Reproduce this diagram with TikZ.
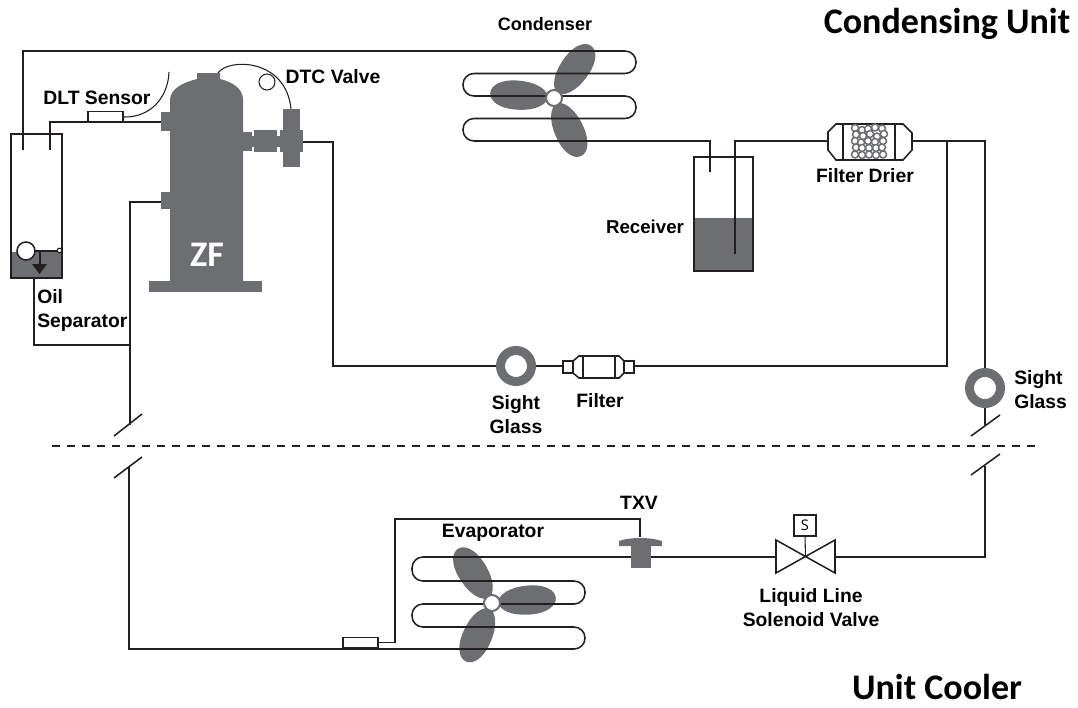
\documentclass[tikz,border=0pt]{standalone}
\usepackage{xcolor}
\usepackage{fontspec}
\setmainfont{Liberation Sans}
\newfontfamily\unitfont{Carlito}
\newfontfamily\valvefont{Open Sans}
\usepackage{tikz}
\usetikzlibrary{arrows.meta, calc}

\definecolor{compgray}{HTML}{6D6E71}
\definecolor{pipeblack}{HTML}{231F20}
\tikzset{
  pipe/.style={draw=pipeblack, line width=1.15pt},
  thinpipe/.style={draw=pipeblack, line width=0.8pt},
  comp/.style={fill=compgray},
  tank/.style={draw=pipeblack, line width=1.15pt, rectangle, inner sep=0pt, outer sep=0pt},
  sensorbox/.style={tank, fill=white, minimum width=26pt, minimum height=8pt},
  glass/.style={circle, draw=compgray, fill=white, line width=6.75pt, minimum size=23.25pt, inner sep=0pt, outer sep=3.375pt},
  label/.style={inner sep=0pt, text=black, font=\fontsize{14.5}{18}\selectfont\bfseries},
  unitlabel/.style={inner sep=0pt, text=black, font=\unitfont\fontsize{27}{30}\selectfont\bfseries},
}

\begin{document}
\begin{tikzpicture}[x=0.75pt,y=-0.75pt]
\useasboundingbox (0,0) rectangle (1078,707);

% Ports and corners
\coordinate (sepin) at (23,150);
\coordinate (sepout) at (50,150);
\coordinate (dltport) at (161,122);
\coordinate (suctport) at (161,202);
\coordinate (dtcport) at (303,142);
\coordinate (recin) at (710,172);
\coordinate (recdip) at (735,254);
\coordinate (tee) at (947,141);
\coordinate (hubcond) at (554,98);
\coordinate (hubevap) at (492,603);

% Oil separator
\fill[comp] (11,252) rectangle (62,278);
\node[tank, minimum width=38.25pt, minimum height=108pt] (oilsep) at (36.5,206) {};
\draw[thinpipe] (26,251) -- (59,251);
\draw[thinpipe] (40,251) -- (40,265);
\fill[pipeblack] (32,264) -- (47,264) -- (39.5,274) -- cycle;
\node[circle, draw=pipeblack, fill=white, line width=1.15pt, minimum size=13.5pt, inner sep=0pt] (sepfloat) at (26,251) {};
\node[circle, draw=pipeblack, fill=white, line width=0.8pt, minimum size=3.5pt, inner sep=0pt] (sepball) at (59.5,250.5) {};

% Compressor
\fill[comp] (170,281) -- (170,100) .. controls (170,88) and (185,82) .. (197,79) -- (197,73) -- (220,73) -- (220,79) .. controls (232,82) and (243,88) .. (243,100) -- (243,281) -- cycle;
\fill[comp] (149,281) rectangle (262,292);
\fill[comp] (161,112) rectangle (170,131);
\fill[comp] (161,192) rectangle (170,209);
\fill[comp] (243,132) rectangle (252,151);
\fill[comp] (252,136) rectangle (280,147);
\fill[comp] (254,130) rectangle (277,152);
\fill[comp] (280,130) rectangle (303,152);
\fill[comp] (283,109) rectangle (300,167);
\node[inner sep=0pt, text=white, font=\unitfont\fontsize{27}{30}\selectfont\bfseries] (zf) at (207,255) {ZF};

% DTC valve bulb and DLT sensor
\draw[thinpipe] (218,73) .. controls (228,58) and (286,58) .. (291,109);
\node[circle, draw=pipeblack, fill=white, line width=0.8pt, minimum size=12pt, inner sep=0pt] (dtcbulb) at (267,82) {};
\node[sensorbox] (dltsensor) at (105.5,117) {};
\draw[thinpipe] (dltsensor.east) .. controls (150,118) and (168,98) .. (169,72);

% Fan blades
\foreach \ang in {175.5,54.7,-65}
  \fill[comp, shift={(hubcond)}, rotate=\ang] (5,0) .. controls (10,-12) and (26,-15) .. (40,-14.5) .. controls (54,-14) and (64,-8) .. (64,0) .. controls (64,8) and (54,14) .. (40,14.5) .. controls (26,15) and (10,12) .. (5,0) -- cycle;
\foreach \ang in {4.6,122,246}
  \fill[comp, shift={(hubevap)}, rotate=\ang] (5,0) .. controls (10,-12) and (26,-15) .. (40,-14.5) .. controls (54,-14) and (64,-8) .. (64,0) .. controls (64,8) and (54,14) .. (40,14.5) .. controls (26,15) and (10,12) .. (5,0) -- cycle;

% Receiver
\fill[comp] (694,218) rectangle (753,271);
\node[tank, minimum width=44.25pt, minimum height=85.5pt] (receiver) at (723.5,214) {};

% Filter drier
\draw[pipe] (828,132) -- (836,124) -- (903,124) -- (912,133) -- (912,150) -- (903,160) -- (836,160) -- (828,150) -- cycle;
\coordinate (drierin) at (828,141);
\coordinate (drierout) at (912,141);
\draw[pipe] (843,124) -- (843,160);
\draw[pipe] (895,124) -- (895,160);
\foreach \col/\row in {855/128,862/130,868/129,875/127.5,882/128.5,
    856/134.5,863/136,870/134,877/136.5,884/134,
    855/141,861/142.5,868/141,875/142,883/141,
    856/147.5,862/148,869/148,876/148,882/147.5,
    855/154.5,862/155,869/154.5,876/155,883/154.5}
  \draw[draw=compgray, fill=white, line width=1.1pt] (\col,\row) circle (3.5);

% Discharge line and condenser coil
\draw[pipe] (sepin) -- (23,51) [rounded corners=8.2pt] -- (636,51) -- (636,73.5) -- (463,73.5) -- (463,96) -- (636,96) -- (636,118.5) -- (463,118.5) -- (463,141) [sharp corners] -- (710,141) -- (recin);
\draw[pipe] (sepout) |- (dltport);
\node[circle, draw=compgray, fill=white, line width=1.5pt, minimum size=12pt, inner sep=0pt] (hubc) at (hubcond) {};

% Liquid line
\node[glass] (sightright) at (985,388) {};
\draw[pipe] (recdip) -- (735,141) -- (drierin);
\draw[pipe] (drierout) -| (sightright.north);
\draw[pipe] (tee) -- (947,366) -- (634,366);
\draw[pipe] (sightright.south) -- (985,425);

% Hot gas line with sight glass and filter
\node[glass] (sightleft) at (516,366) {};
\draw[pipe] (dtcport) -- (333,142) |- (sightleft.west);
\draw[pipe] (sightleft.east) -- (563,366);
\draw[pipe] (563,361) rectangle (573,373);
\draw[pipe] (624,361) rectangle (634,373);
\draw[pipe] (573,361) -- (579,356) -- (619,356) -- (624,361) -- (624,373) -- (619,378) -- (579,378) -- (573,373) -- cycle;
\draw[pipe] (583,356) -- (583,378);
\draw[pipe] (615,356) -- (615,378);

% Oil return and suction line
\draw[pipe] (34,278) -- (34,345) -- (130,345);
\draw[pipe] (suctport) -| (130,425);

% Break between units
\draw[pipeblack, line width=1.1pt, dash pattern=on 6pt off 5.25pt] (52,446) -- (1039,446);
\draw[pipe] (114,436) -- (142,414);
\draw[pipe] (114,478) -- (142,457);
\draw[pipe] (971,436) -- (1000,415);
\draw[pipe] (971,475) -- (1000,454);

% Evaporator coil
\draw[pipe] (129,467) -- (129,649) [rounded corners=8.2pt] -- (585,649) -- (585,627) -- (412,627) -- (412,604) -- (585,604) -- (585,581) -- (412,581) -- (412,557) [sharp corners] -- (776,557);
\node[circle, draw=compgray, fill=white, line width=1.5pt, minimum size=12pt, inner sep=0pt] (hube) at (hubevap) {};
\node[sensorbox, minimum height=7.5pt] (evapsensor) at (360.5,642.5) {};

% TXV
\fill[comp] (619,546) -- (619,541) .. controls (630,537) and (650,537) .. (662,541) -- (662,546) -- cycle;
\fill[comp] (631,546) rectangle (651,568);
\coordinate (txvtop) at (640,537);
\draw[pipe] (evapsensor.east) -- (395,642.5) -- (395,519) -| (txvtop);

% Solenoid valve
\draw[pipe] (776,540) -- (776,573) -- (835,540) -- (835,573) -- cycle;
\node[tank, minimum width=16.5pt, minimum height=16pt, font=\valvefont\fontsize{11}{12}\selectfont] (sbox) at (805,525.5) {S};
\coordinate (solenoid) at (805.5,556.5);
\draw[thinpipe] (sbox.south) -- (solenoid);
\draw[pipe] (835,557) -| (985,466);

% Labels
\node[unitlabel] (condunit) at (947,24) {Condensing Unit};
\node[unitlabel] (coolunit) at (937,687) {Unit Cooler};
\node[label, font=\fontsize{13.5}{18}\selectfont\bfseries] (condlabel) at (545,24) {Condenser};
\node[label] (dtclabel) at (333,77) {DTC Valve};
\node[label] (dltlabel) at (97,98) {DLT Sensor};
\node[label, align=left, anchor=west] (seplabel) at (37,310) {Oil\\Separator};
\node[label, font=\fontsize{14}{18}\selectfont\bfseries] (reclabel) at (645,227) {Receiver};
\node[label] (drierlabel) at (865,176) {Filter Drier};
\node[label, align=center] (sightllabel) at (516,415) {Sight\\Glass};
\node[label] (filterlabel) at (600,401) {Filter};
\node[label, align=left, anchor=west] (sightrlabel) at (1014,390) {Sight\\Glass};
\node[label] (txvlabel) at (639,503) {TXV};
\node[label] (evaplabel) at (493,533) {Evaporator};
\node[label, align=center] (sollabel) at (811,608) {Liquid Line\\Solenoid Valve};
\end{tikzpicture}
\end{document}
